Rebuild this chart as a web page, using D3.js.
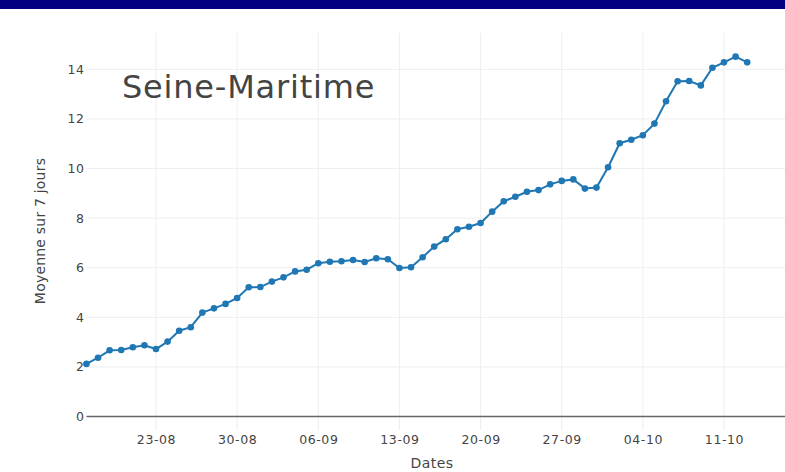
<!DOCTYPE html>
<html><head><meta charset="utf-8">
<script src="https://cdn.jsdelivr.net/npm/d3@7"></script>
<style>body{margin:0;background:#fff}svg{display:block}</style>
</head><body>
<script>
const dates = ["2020-08-17","2020-08-18","2020-08-19","2020-08-20","2020-08-21","2020-08-22","2020-08-23","2020-08-24","2020-08-25","2020-08-26","2020-08-27","2020-08-28","2020-08-29","2020-08-30","2020-08-31","2020-09-01","2020-09-02","2020-09-03","2020-09-04","2020-09-05","2020-09-06","2020-09-07","2020-09-08","2020-09-09","2020-09-10","2020-09-11","2020-09-12","2020-09-13","2020-09-14","2020-09-15","2020-09-16","2020-09-17","2020-09-18","2020-09-19","2020-09-20","2020-09-21","2020-09-22","2020-09-23","2020-09-24","2020-09-25","2020-09-26","2020-09-27","2020-09-28","2020-09-29","2020-09-30","2020-10-01","2020-10-02","2020-10-03","2020-10-04","2020-10-05","2020-10-06","2020-10-07","2020-10-08","2020-10-09","2020-10-10","2020-10-11","2020-10-12","2020-10-13"];
const values = [2.12,2.37,2.67,2.68,2.79,2.87,2.72,3.02,3.46,3.60,4.19,4.36,4.54,4.78,5.21,5.22,5.44,5.61,5.85,5.92,6.18,6.24,6.26,6.31,6.23,6.38,6.34,5.99,6.02,6.42,6.85,7.15,7.55,7.65,7.80,8.26,8.68,8.86,9.06,9.13,9.36,9.50,9.56,9.19,9.23,10.05,11.02,11.16,11.34,11.81,12.71,13.52,13.53,13.35,14.06,14.28,14.51,14.28];
const xTicks = ["2020-08-23","2020-08-30","2020-09-06","2020-09-13","2020-09-20","2020-09-27","2020-10-04","2020-10-11"];
const yTicks = [0,2,4,6,8,10,12,14];
const title = "Seine-Maritime";
const xTitle = "Dates";
const yTitle = "Moyenne sur 7 jours";

(function(){
const W = 785, H = 472;
const FONT = "'DejaVu Sans', Verdana, sans-serif";
const parse = d3.utcParse("%Y-%m-%d");
const fmt = d3.utcFormat("%d-%m");
const data = dates.map((d,i)=>({date:parse(d), v:values[i]}));

const pL = 86.5, pR = 785, pT = 33, pB = 430;
const x = d3.scaleUtc()
  .domain([parse("2020-08-23"), parse("2020-10-11")])
  .range([156, 724]);
const y = d3.scaleLinear().domain([0,14]).range([416.5, 69.3]);

const svg = d3.select("body").append("svg").attr("width",W).attr("height",H)
  .style("font-family",FONT);

svg.append("rect").attr("x",0).attr("y",0).attr("width",W).attr("height",9).attr("fill","#000080");

const g = svg.append("g");
g.selectAll("line.vg").data(xTicks).join("line")
  .attr("x1",d=>x(parse(d))).attr("x2",d=>x(parse(d)))
  .attr("y1",pT).attr("y2",pB)
  .attr("stroke","#eeeeee").attr("stroke-width",1);
g.selectAll("line.hg").data(yTicks.filter(d=>d!==0)).join("line")
  .attr("x1",pL).attr("x2",pR)
  .attr("y1",d=>y(d)).attr("y2",d=>y(d))
  .attr("stroke","#eeeeee").attr("stroke-width",1);

const xAxis = d3.axisBottom(x).tickValues(xTicks.map(parse)).tickFormat(fmt).tickSize(0).tickPadding(0);
const xa = svg.append("g").attr("transform",`translate(0,${y(0)})`).call(xAxis);
xa.select(".domain").remove();
xa.selectAll("text").attr("dy",0).attr("y",27).attr("fill","#444").style("font-size","12.5px")
  .style("letter-spacing","0.6px").style("font-family",FONT);

const yAxis = d3.axisLeft(y).tickValues(yTicks).tickSize(0).tickPadding(0);
const ya = svg.append("g").attr("transform",`translate(${pL-2},0)`).call(yAxis);
ya.select(".domain").remove();
ya.selectAll("text").attr("fill","#444").style("font-size","12.5px")
  .style("letter-spacing","0.5px").style("font-family",FONT);

svg.append("line").attr("x1",pL).attr("x2",pR).attr("y1",y(0)).attr("y2",y(0))
  .attr("stroke","#666").attr("stroke-width",1.5);

const line = d3.line().x(d=>x(d.date)).y(d=>y(d.v));
svg.append("path").datum(data).attr("d",line).attr("fill","none")
  .attr("stroke","#1f77b4").attr("stroke-width",2);
svg.append("g").selectAll("circle").data(data).join("circle")
  .attr("cx",d=>x(d.date)).attr("cy",d=>y(d.v)).attr("r",3.3).attr("fill","#1f77b4");

svg.append("text").attr("x",122).attr("y",98).text(title)
  .attr("fill","#444").style("font-size","32px").style("letter-spacing","0.8px");
svg.append("text").attr("x",432).attr("y",468).attr("text-anchor","middle").text(xTitle)
  .attr("fill","#444").style("font-size","14px").style("letter-spacing","0.4px");
svg.append("text").attr("transform","translate(45,231) rotate(-90)").attr("text-anchor","middle")
  .text(yTitle).attr("fill","#444").style("font-size","14px").style("letter-spacing","0.2px");
})();
</script>
</body></html>
